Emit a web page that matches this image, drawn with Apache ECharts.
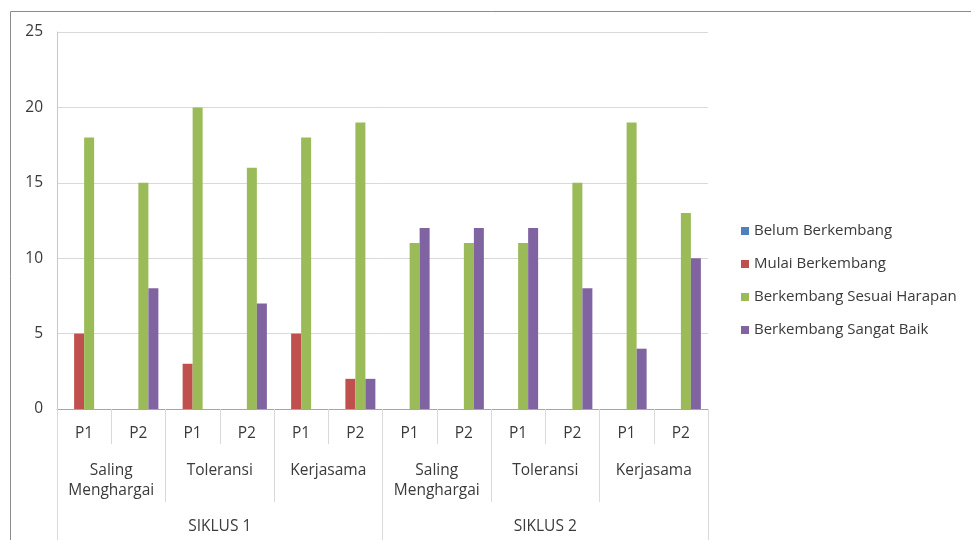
<!DOCTYPE html>
<html>
<head>
<meta charset="utf-8">
<script src="https://cdn.jsdelivr.net/npm/echarts@6/dist/echarts.min.js"></script>
<style>
  html, body { margin: 0; padding: 0; background: #ffffff; }
  #chart { width: 971px; height: 540px; }
</style>
</head>
<body>
<div id="chart"></div>
<script>
// Axis categories, three levels
const pertemuan = ['P1', 'P2', 'P1', 'P2', 'P1', 'P2', 'P1', 'P2', 'P1', 'P2', 'P1', 'P2'];
const aspek = ['Saling\nMenghargai', 'Toleransi', 'Kerjasama', 'Saling\nMenghargai', 'Toleransi', 'Kerjasama'];
const siklus = ['SIKLUS 1', 'SIKLUS 2'];
const yTicks = [0, 5, 10, 15, 20, 25];

// Counts per meeting for each development level
const belumBerkembang = [0, 0, 0, 0, 0, 0, 0, 0, 0, 0, 0, 0];
const mulaiBerkembang = [5, 0, 3, 0, 5, 2, 0, 0, 0, 0, 0, 0];
const berkembangSesuaiHarapan = [18, 15, 20, 16, 18, 19, 11, 11, 11, 15, 19, 13];
const berkembangSangatBaik = [0, 8, 0, 7, 0, 2, 12, 12, 12, 8, 4, 10];

const FONT = '"Open Sans", "Noto Sans", sans-serif';
const TEXT = '#3a3a3a';
const TICK = '#d9d9d9';
const AXIS_FS = 15.5;

const chart = echarts.init(document.getElementById('chart'), null, { renderer: 'canvas' });

function bar(name, data, color) {
  return {
    name: name,
    type: 'bar',
    xAxisIndex: 0,
    data: data,
    barWidth: 10,
    barGap: '0%',
    itemStyle: { color: color },
    animation: false
  };
}

function levelAxis(data, tickLen, margin, showLine, lineHeight) {
  return {
    type: 'category',
    position: 'bottom',
    data: data,
    boundaryGap: true,
    axisLine: { show: showLine, lineStyle: { color: '#a6a6a6', width: 1 } },
    axisTick: { show: true, interval: 0, length: tickLen, lineStyle: { color: TICK, width: 1 } },
    axisLabel: {
      interval: 0,
      margin: margin,
      color: TEXT,
      fontFamily: FONT,
      fontSize: AXIS_FS,
      lineHeight: lineHeight
    },
    splitLine: { show: false }
  };
}

chart.setOption({
  backgroundColor: '#ffffff',
  animation: false,
  graphic: [{
    type: 'rect',
    shape: { x: 10.5, y: 11.5, width: 1000, height: 600 },
    style: { fill: 'none', stroke: '#8c8c8c', lineWidth: 1 },
    silent: true,
    z: -1
  }],
  grid: { left: 57, right: 263, top: 32, bottom: 131, containLabel: false },
  legend: {
    orient: 'vertical',
    left: 736,
    top: 218,
    itemWidth: 8,
    itemHeight: 8,
    itemGap: 17,
    icon: 'rect',
    textStyle: { color: TEXT, fontFamily: FONT, fontSize: 15, lineHeight: 16, padding: [0, 0, 0, 0] },
    data: ['Belum Berkembang', 'Mulai Berkembang', 'Berkembang Sesuai Harapan', 'Berkembang Sangat Baik']
  },
  xAxis: [
    levelAxis(pertemuan, 35, 17, true, 16),
    levelAxis(aspek, 93, 52, false, 20),
    levelAxis(siklus, 131, 110, false, 16)
  ],
  yAxis: {
    type: 'value',
    min: yTicks[0],
    max: yTicks[yTicks.length - 1],
    interval: 5,
    axisLine: { show: true, lineStyle: { color: '#c8c8c8' } },
    axisTick: { show: false },
    axisLabel: { color: TEXT, fontFamily: FONT, fontSize: AXIS_FS, margin: 14 },
    splitLine: { show: true, lineStyle: { color: '#d9d9d9', width: 1 } }
  },
  series: [
    bar('Belum Berkembang', belumBerkembang, '#4F81BD'),
    bar('Mulai Berkembang', mulaiBerkembang, '#C0504D'),
    bar('Berkembang Sesuai Harapan', berkembangSesuaiHarapan, '#9BBB59'),
    bar('Berkembang Sangat Baik', berkembangSangatBaik, '#8064A2')
  ]
});
</script>
</body>
</html>
